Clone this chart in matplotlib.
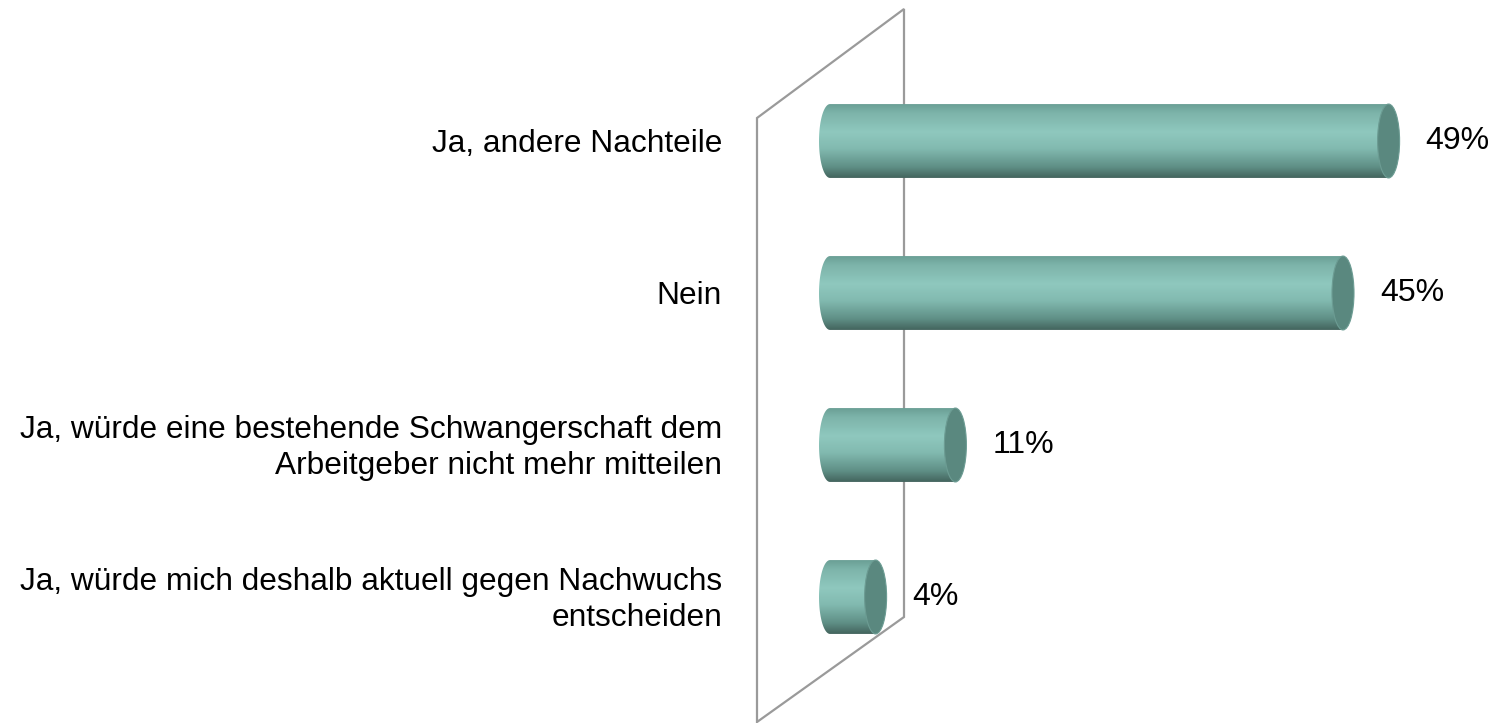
import numpy as np
import matplotlib
matplotlib.use("Agg")
import matplotlib.pyplot as plt
from matplotlib.patches import Ellipse, PathPatch, Polygon
from matplotlib.path import Path
from matplotlib.colors import LinearSegmentedColormap

categories = [
    "Ja, andere Nachteile",
    "Nein",
    "Ja, würde eine bestehende Schwangerschaft dem\nArbeitgeber nicht mehr mitteilen",
    "Ja, würde mich deshalb aktuell gegen Nachwuchs\nentscheiden",
]
values = [49, 45, 11, 4]
value_labels = ["49%", "45%", "11%", "4%"]

W, H = 1497, 723
fig = plt.figure(figsize=(W / 100, H / 100), dpi=100)
ax = fig.add_axes([0, 0, 1, 1])
ax.axis("off")

# data scale: percent on x, category index on y
px_per_pct = 11.4
x0_px = 830
y0_px, dy_px = 141, 152

font = "Liberation Sans"

# back wall (parallelogram) in axes fraction
wall = [(757 / W, 1 - 118 / H), (904 / W, 1 - 9 / H), (904 / W, 1 - 617 / H), (757 / W, 1 - 722 / H)]
ax.add_patch(Polygon(wall, closed=True, fill=False, edgecolor="#9a9a9a", lw=1.6,
                     transform=ax.transAxes, zorder=1))

cmap = LinearSegmentedColormap.from_list(
    "cyl", [(0.0, "#6a9f95"), (0.12, "#7db4aa"), (0.38, "#8fc8be"),
            (0.6, "#82bab0"), (0.85, "#5f8f86"), (1.0, "#43645d")])

a = 11 / px_per_pct      # half-width of end ellipse (data units)
h = 0.243                # half-height of bar (data units)
grad = np.linspace(0, 1, 256).reshape(-1, 1)

for i, (v, lab, vl) in enumerate(zip(values, categories, value_labels)):
    t = np.linspace(np.pi / 2, 3 * np.pi / 2, 60)
    left = np.column_stack([a * np.cos(t), i - h * np.sin(t)])
    verts = [(v, i - h), (0, i - h)] + list(map(tuple, left)) + [(0, i + h), (v, i + h), (v, i - h)]
    codes = [Path.MOVETO] + [Path.LINETO] * (len(verts) - 2) + [Path.CLOSEPOLY]
    body = PathPatch(Path(verts, codes), facecolor="none", edgecolor="none")
    ax.add_patch(body)
    im = ax.imshow(grad, cmap=cmap, aspect="auto",
                   extent=(-a, v, i + h, i - h), zorder=2, interpolation="bicubic")
    im.set_clip_path(body)
    ax.add_patch(Ellipse((v, i), 2 * a, 2 * h, facecolor="#5a887f",
                         edgecolor="#6c9c93", lw=0.8, zorder=3))
    ax.text(-108 / px_per_pct, i + 0.02, lab, ha="right", va="center", fontsize=22.8,
            family=font, color="black", linespacing=1.3)
    ax.text(v + a + 26 / px_per_pct, i, vl, ha="left", va="center", fontsize=23,
            family=font, color="black")

ax.set_xlim(-x0_px / px_per_pct, (W - x0_px) / px_per_pct)
ax.set_ylim((H - y0_px) / dy_px, -y0_px / dy_px)

fig.savefig("out.png", dpi=100, facecolor="white")
